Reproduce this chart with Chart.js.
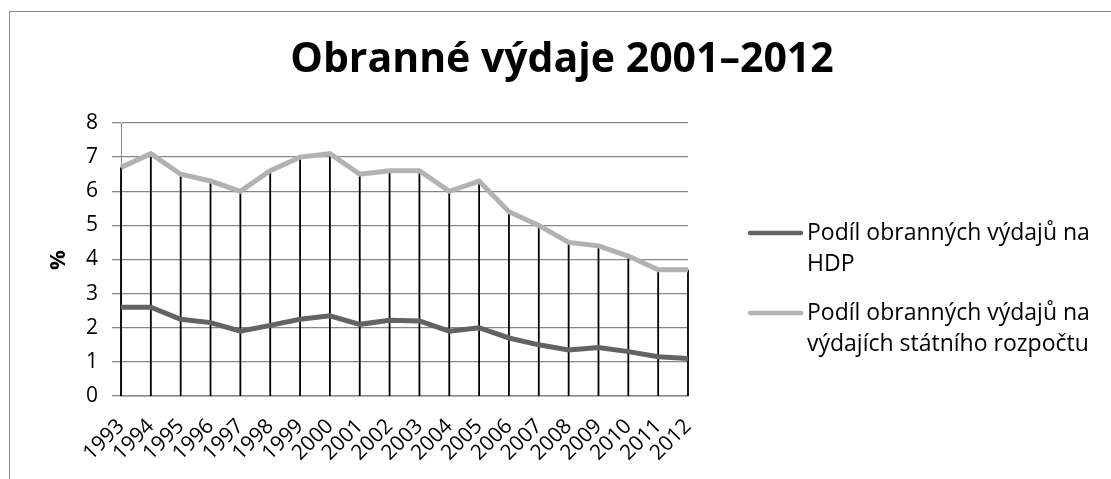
<!DOCTYPE html>
<html>
<head>
<meta charset="utf-8">
<script src="https://cdn.jsdelivr.net/npm/chart.js@4/dist/chart.umd.min.js"></script>
<style>
html,body{margin:0;padding:0;background:#fff;}
#wrap{position:relative;width:1111px;height:479px;}
</style>
</head>
<body>
<div id="wrap"><canvas id="c" width="1111" height="479"></canvas></div>
<script>
const chartTitle = 'Obranné výdaje 2001–2012';
const yAxisTitle = '%';
const years = ['1993','1994','1995','1996','1997','1998','1999','2000','2001','2002','2003','2004','2005','2006','2007','2008','2009','2010','2011','2012'];
const hdpShare = [2.6,2.6,2.25,2.15,1.9,2.07,2.25,2.35,2.1,2.22,2.2,1.9,2.0,1.7,1.5,1.35,1.42,1.3,1.15,1.1];
const budgetShare = [6.7,7.1,6.5,6.3,6.0,6.6,7.0,7.1,6.5,6.6,6.6,6.0,6.3,5.4,5.0,4.5,4.4,4.1,3.7,3.7];
const seriesLabels = [['Podíl obranných výdajů na','HDP'],['Podíl obranných výdajů na','výdajích státního rozpočtu']];
const yTicks = [0,1,2,3,4,5,6,7,8];

const FONT = '"Open Sans", "DejaVu Sans", sans-serif';

const decor = {
  id: 'decor',
  beforeDraw(chart) {
    const ctx = chart.ctx;
    ctx.save();
    ctx.strokeStyle = '#8a8a8a';
    ctx.lineWidth = 1;
    ctx.strokeRect(9.5, 11.5, 1200, 600);
    ctx.restore();
  },
  beforeDatasetsDraw(chart) {
    const ctx = chart.ctx;
    const meta = chart.getDatasetMeta(1);
    const yBase = chart.scales.y.getPixelForValue(0);
    ctx.save();
    ctx.strokeStyle = '#000';
    ctx.lineWidth = 1.8;
    meta.data.forEach(p => {
      ctx.beginPath();
      ctx.moveTo(p.x, p.y);
      ctx.lineTo(p.x, yBase);
      ctx.stroke();
    });
    ctx.restore();
  },
  afterDraw(chart) {
    const ctx = chart.ctx;
    ctx.save();
    ctx.fillStyle = '#000';
    ctx.font = 'bold 41px ' + FONT;
    ctx.textAlign = 'center';
    ctx.textBaseline = 'middle';
    ctx.fillText(chartTitle, 562, 60);
    ctx.save();
    ctx.translate(59, 260);
    ctx.rotate(-Math.PI/2);
    ctx.font = 'bold 22px ' + FONT;
    ctx.fillText(yAxisTitle, 0, 0);
    ctx.restore();
    const ys = [233, 313];
    ctx.font = '23px ' + FONT;
    ctx.textAlign = 'left';
    chart.data.datasets.forEach((ds, i) => {
      ctx.strokeStyle = ds.borderColor;
      ctx.lineWidth = 4.5;
      ctx.lineCap = 'round';
      ctx.beginPath();
      ctx.moveTo(750, ys[i]);
      ctx.lineTo(801, ys[i]);
      ctx.stroke();
      ctx.fillStyle = '#000';
      seriesLabels[i].forEach((t, k) => ctx.fillText(t, 807, ys[i] + k * 31));
    });
    ctx.restore();
  }
};

new Chart(document.getElementById('c'), {
  type: 'line',
  data: {
    labels: years,
    datasets: [
      { label: seriesLabels[0].join(' '), data: hdpShare, borderColor: '#636363', borderWidth: 5, pointRadius: 0, tension: 0, fill: false },
      { label: seriesLabels[1].join(' '), data: budgetShare, borderColor: '#b2b2b2', borderWidth: 5, pointRadius: 0, tension: 0, fill: false }
    ]
  },
  options: {
    responsive: false,
    animation: false,
    events: [],
    layout: { padding: { top: 123, right: 423, left: 0, bottom: 0 } },
    plugins: { legend: { display: false }, title: { display: false }, tooltip: { enabled: false } },
    scales: {
      x: {
        offset: false,
        grid: { display: false, drawTicks: false },
        border: { display: true, color: '#868686', width: 1.5 },
        ticks: { autoSkip: false, minRotation: 45, maxRotation: 45, color: '#000', font: { family: FONT, size: 21 }, padding: 18 },
        afterFit(s) { s.height = 83; }
      },
      y: {
        min: 0, max: 8,
        afterBuildTicks(s) { s.ticks = yTicks.map(v => ({ value: v })); },
        grid: { color: '#868686', lineWidth: 1.3, tickLength: 9, drawTicks: true },
        border: { display: true, color: '#868686', width: 1 },
        ticks: { color: '#000', font: { family: FONT, size: 21 }, padding: 14 },
        afterFit(s) { s.width = 121; }
      }
    }
  },
  plugins: [decor]
});
</script>
</body>
</html>
